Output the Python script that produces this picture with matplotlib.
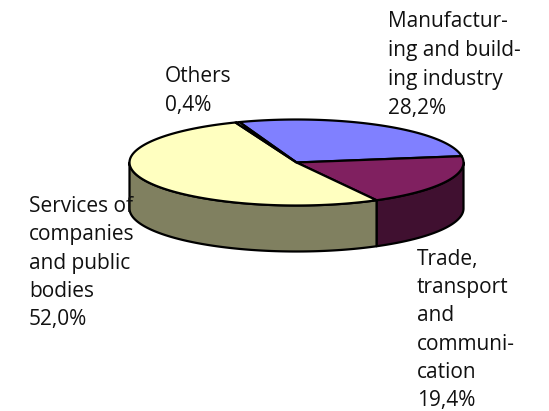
import numpy as np
import matplotlib
matplotlib.use("Agg")
import matplotlib.pyplot as plt

categories = ["Manufacturing and building industry", "Trade, transport and communication",
              "Services of companies and public bodies", "Others"]
values = [28.2, 19.4, 52.0, 0.4]
top_colors = ["#8080FF", "#802060", "#FFFFC0", "#FFFFFF"]
side_colors = ["#404080", "#401030", "#808060", "#808080"]
labels = ["Manufactur-\ning and build-\ning industry\n28,2%",
          "Trade,\ntransport\nand\ncommuni-\ncation\n19,4%",
          "Services of\ncompanies\nand public\nbodies\n52,0%",
          "Others\n0,4%"]
label_xy = [(388, 11), (417, 249), (29, 196), (165, 66)]
label_spacing = [1.51, 1.45, 1.46, 1.51]

W, H = 549, 411
cx, cy, a, b, depth = 296.5, 162.5, 167, 43, 46
start = 110.0
lw = 1.6

fig = plt.figure(figsize=(W / 100, H / 100), dpi=100)
ax = fig.add_axes([0, 0, 1, 1])
ax.set_xlim(0, W)
ax.set_ylim(H, 0)
ax.axis("off")

def pts(t):
    return cx + a * np.cos(np.radians(t)), cy - b * np.sin(np.radians(t))

edges = start - np.concatenate([[0], np.cumsum(values)]) * 3.6

# side walls (only the front half of the rim is visible)
for i in range(len(values)):
    t0, t1 = edges[i], edges[i + 1]
    hi = min(t0, 0)
    lo = max(t1, -180)
    if hi <= lo:
        continue
    t = np.linspace(hi, lo, 100)
    x, y = pts(t)
    ax.fill(np.r_[x, x[::-1]], np.r_[y, y[::-1] + depth], fc=side_colors[i], ec="black", lw=lw, zorder=2, joinstyle="round")

# top faces
for i in range(len(values)):
    t = np.linspace(edges[i], edges[i + 1], 200)
    x, y = pts(t)
    ax.fill(np.r_[cx, x], np.r_[cy, y], fc=top_colors[i], ec="black", lw=lw, zorder=3, joinstyle="round")

for s, (x, y), sp in zip(labels, label_xy, label_spacing):
    ax.text(x, y, s, fontsize=15, family="Open Sans", color="#111111", va="top", ha="left",
            linespacing=sp, zorder=5)

fig.savefig("out.png", dpi=100)
